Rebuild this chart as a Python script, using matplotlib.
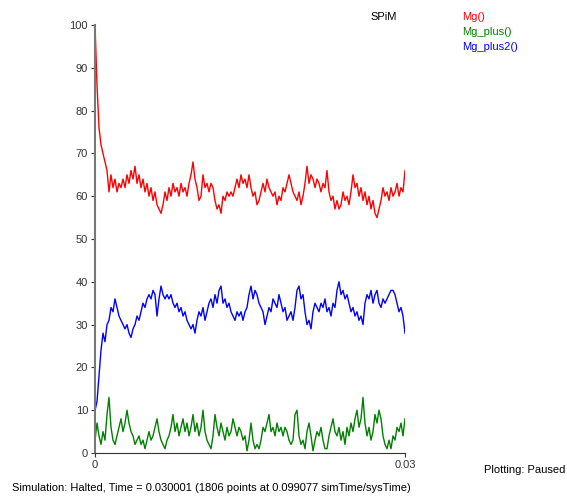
import numpy as np
import matplotlib.pyplot as plt

t_end = 0.03

# sampled populations over the run
mg = [100, 86, 76, 72, 70, 68, 66, 61, 65, 62, 64, 61, 63, 62, 64, 62, 65, 63, 66, 64,
      67, 63, 65, 62, 64, 61, 63, 60, 62, 59, 61, 58, 57, 56, 58, 61, 59, 62, 60, 63,
      61, 62, 60, 63, 61, 62, 60, 63, 65, 68, 64, 62, 59, 60, 65, 62, 63, 61, 63, 62,
      59, 57, 58, 56, 60, 59, 61, 60, 61, 60, 62, 64, 62, 65, 63, 64, 62, 65, 62, 60,
      61, 58, 59, 61, 63, 61, 64, 62, 61, 60, 61, 58, 60, 59, 62, 61, 63, 65, 63, 61,
      60, 59, 61, 58, 60, 63, 67, 63, 65, 64, 62, 64, 63, 61, 63, 62, 66, 61, 59, 60,
      57, 59, 57, 58, 61, 59, 60, 58, 61, 65, 62, 63, 60, 62, 59, 61, 58, 60, 57, 59,
      56, 55, 57, 59, 62, 60, 61, 59, 62, 60, 61, 63, 60, 62, 61, 66]

mg_plus = [3, 7, 4, 2, 5, 3, 9, 13, 6, 3, 2, 4, 6, 8, 5, 7, 10, 7, 5, 4,
           2, 3, 4, 2, 3, 1, 3, 5, 3, 4, 6, 8, 5, 3, 2, 1, 3, 4, 6, 9,
           5, 7, 4, 6, 8, 5, 7, 4, 6, 9, 5, 7, 4, 6, 10, 5, 3, 2, 1, 4,
           9, 6, 4, 7, 5, 3, 6, 4, 5, 8, 6, 4, 6, 5, 3, 4, 0.5, 3, 7, 3,
           1, 2, 1, 3, 6, 5, 7, 9, 5, 6, 4, 7, 5, 6, 4, 6, 5, 3, 2, 3,
           9, 10, 4, 2, 3, 1, 5, 7, 4, 0.5, 3, 5, 4, 6, 3, 1, 1, 4, 6, 8,
           5, 4, 6, 3, 5, 2, 6, 4, 7, 5, 8, 10, 6, 8, 13, 7, 4, 6, 3, 5,
           9, 7, 10, 8, 4, 2, 1, 3, 1, 4, 3, 6, 5, 7, 4, 8]

mg_plus2 = [10, 12, 18, 24, 28, 26, 30, 31, 34, 33, 36, 34, 32, 31, 30, 29, 30, 28, 27, 29,
            30, 32, 31, 33, 35, 34, 36, 37, 36, 38, 37, 32, 36, 39, 37, 36, 37, 36, 37, 35,
            34, 35, 33, 34, 32, 33, 31, 30, 29, 30, 28, 31, 33, 32, 34, 31, 33, 35, 36, 34,
            37, 35, 38, 39, 35, 36, 34, 35, 33, 32, 31, 33, 32, 33, 31, 33, 34, 37, 39, 36,
            38, 37, 35, 34, 33, 30, 32, 34, 33, 36, 35, 34, 37, 35, 33, 34, 31, 32, 33, 31,
            34, 38, 39, 36, 37, 33, 30, 31, 29, 33, 35, 34, 33, 35, 34, 36, 33, 34, 32, 35,
            34, 38, 40, 37, 38, 36, 37, 35, 33, 34, 32, 33, 31, 32, 30, 35, 37, 36, 38, 35,
            37, 38, 35, 34, 36, 35, 36, 37, 38, 38, 37, 35, 33, 34, 32, 28]

series = [("Mg()", mg, "#ff0000"),
          ("Mg_plus()", mg_plus, "#008000"),
          ("Mg_plus2()", mg_plus2, "#0000ff")]

plt.rcParams['font.family'] = ['Liberation Sans', 'DejaVu Sans']

fig = plt.figure(figsize=(5.67, 4.97), dpi=100)
ax = fig.add_axes([95 / 567, 44 / 497, 310 / 567, 428 / 497])

for name, vals, col in series:
    t = np.linspace(0, t_end, len(vals))
    ax.plot(t, vals, color=col, lw=1.0)

ax.set_xlim(0, t_end)
ax.set_ylim(0, 100)
ax.set_yticks(range(0, 101, 10))
ax.set_xticks([0, t_end])
ax.set_xticklabels(["0", "0.03"])
ax.tick_params(labelsize=8, length=3, width=0.8, colors="#333333", pad=2)

for s in ("top", "right"):
    ax.spines[s].set_visible(False)
ax.spines["left"].set_color("#777777")
ax.spines["left"].set_linewidth(1.5)
ax.spines["bottom"].set_color("#333333")

# header and legend text
fig.text(370 / 567, 1 - 17 / 497, "SPiM", fontsize=8, va="center")
for i, (name, vals, col) in enumerate(series):
    fig.text(462 / 567, 1 - (17 + 15 * i) / 497, name, color=col, fontsize=8, va="center")

fig.text(565 / 567, 1 - 470 / 497, "Plotting: Paused", fontsize=8, ha="right", va="center")
fig.text(12 / 567, 1 - 488 / 497,
         "Simulation: Halted, Time = 0.030001 (1806 points at 0.099077 simTime/sysTime)",
         fontsize=8, va="center")

fig.savefig("out.png", dpi=100)
